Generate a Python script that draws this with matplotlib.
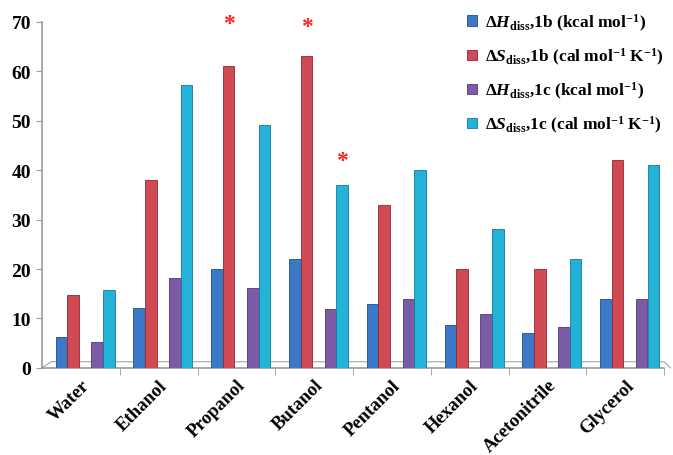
import numpy as np
import matplotlib.pyplot as plt

plt.rcParams['font.family'] = 'Liberation Serif'
plt.rcParams['font.weight'] = 'bold'
plt.rcParams['mathtext.fontset'] = 'custom'
plt.rcParams['mathtext.rm'] = 'Liberation Serif:bold'
plt.rcParams['mathtext.it'] = 'Liberation Serif:bold:italic'
plt.rcParams['mathtext.bf'] = 'Liberation Serif:bold'

solvents = ["Water", "Ethanol", "Propanol", "Butanol", "Pentanol",
            "Hexanol", "Acetonitrile", "Glycerol"]
dH_1b = [6.2, 12.1, 20.1, 22.1, 13.0, 8.6, 7.0, 14.0]
dS_1b = [14.8, 38.1, 61.1, 63.2, 33.0, 20.0, 20.0, 42.0]
dH_1c = [5.3, 18.1, 16.1, 12.0, 14.0, 11.0, 8.3, 14.0]
dS_1c = [15.7, 57.2, 49.2, 37.0, 40.1, 28.0, 22.0, 41.1]

labels = [r"$\Delta\mathit{H}_{\rm diss}$,1b (kcal mol$^{-1}$)",
          r"$\Delta\mathit{S}_{\rm diss}$,1b (cal mol$^{-1}$ K$^{-1}$)",
          r"$\Delta\mathit{H}_{\rm diss}$,1c (kcal mol$^{-1}$)",
          r"$\Delta\mathit{S}_{\rm diss}$,1c (cal mol$^{-1}$ K$^{-1}$)"]
colors = ["#3b78c6", "#cf4a52", "#7b5aa6", "#24b2d8"]
edges = ["#1f4f8c", "#8e2a30", "#4f3a75", "#137a99"]

# asterisks: (solvent index, series index, y position)
stars = [(2, 1, 69.6), (3, 1, 69.0), (3, 3, 41.9)]

offsets = [-0.25, -0.10, 0.21, 0.36]
width = 0.148

fig = plt.figure(figsize=(6.73, 4.56), dpi=100)
ax = fig.add_axes([0.0624, 0.191, 0.9246, 0.7588])

x = np.arange(len(solvents))
series = [dH_1b, dS_1b, dH_1c, dS_1c]
for s, vals in enumerate(series):
    ax.bar(x + offsets[s], vals, width, color=colors[s], edgecolor=edges[s],
           linewidth=0.6, label=labels[s], zorder=3)

for i, s, yv in stars:
    ax.text(x[i] + offsets[s], yv, "*", color="#ff2020", fontsize=17,
            ha="center", va="center", zorder=4)

ax.set_xlim(-0.5, len(solvents) - 0.5)
ax.set_ylim(0, 70)
ax.set_yticks(range(0, 71, 10))
ax.tick_params(axis='y', labelsize=14, length=4, color="#9a9a9a", pad=4)
ax.set_xticks(x)
ax.set_xticklabels(solvents, rotation=45, ha="right", rotation_mode="anchor",
                   fontsize=13.5)
ax.tick_params(axis='x', length=0, pad=6)
ax.set_xticks(np.arange(len(solvents)) + 0.5, minor=True)
ax.tick_params(axis='x', which='minor', length=5, color="#9a9a9a")

for side in ["top", "right"]:
    ax.spines[side].set_visible(False)
for side in ["left", "bottom"]:
    ax.spines[side].set_color("#9a9a9a")
    ax.spines[side].set_linewidth(1.2)

# 3D-style floor edge
ax.plot([0.0, 0.015, 1.0, 1.01], [0.0, 0.018, 0.018, 0.0], transform=ax.transAxes,
        color="#b0b0b0", lw=0.9, clip_on=False, zorder=2)

leg = ax.legend(loc="upper right", bbox_to_anchor=(1.025, 1.075), frameon=False,
                fontsize=12.5, handlelength=0.55, handleheight=0.55,
                handletextpad=0.5, labelspacing=0.75)

plt.savefig("out.png", dpi=100)
